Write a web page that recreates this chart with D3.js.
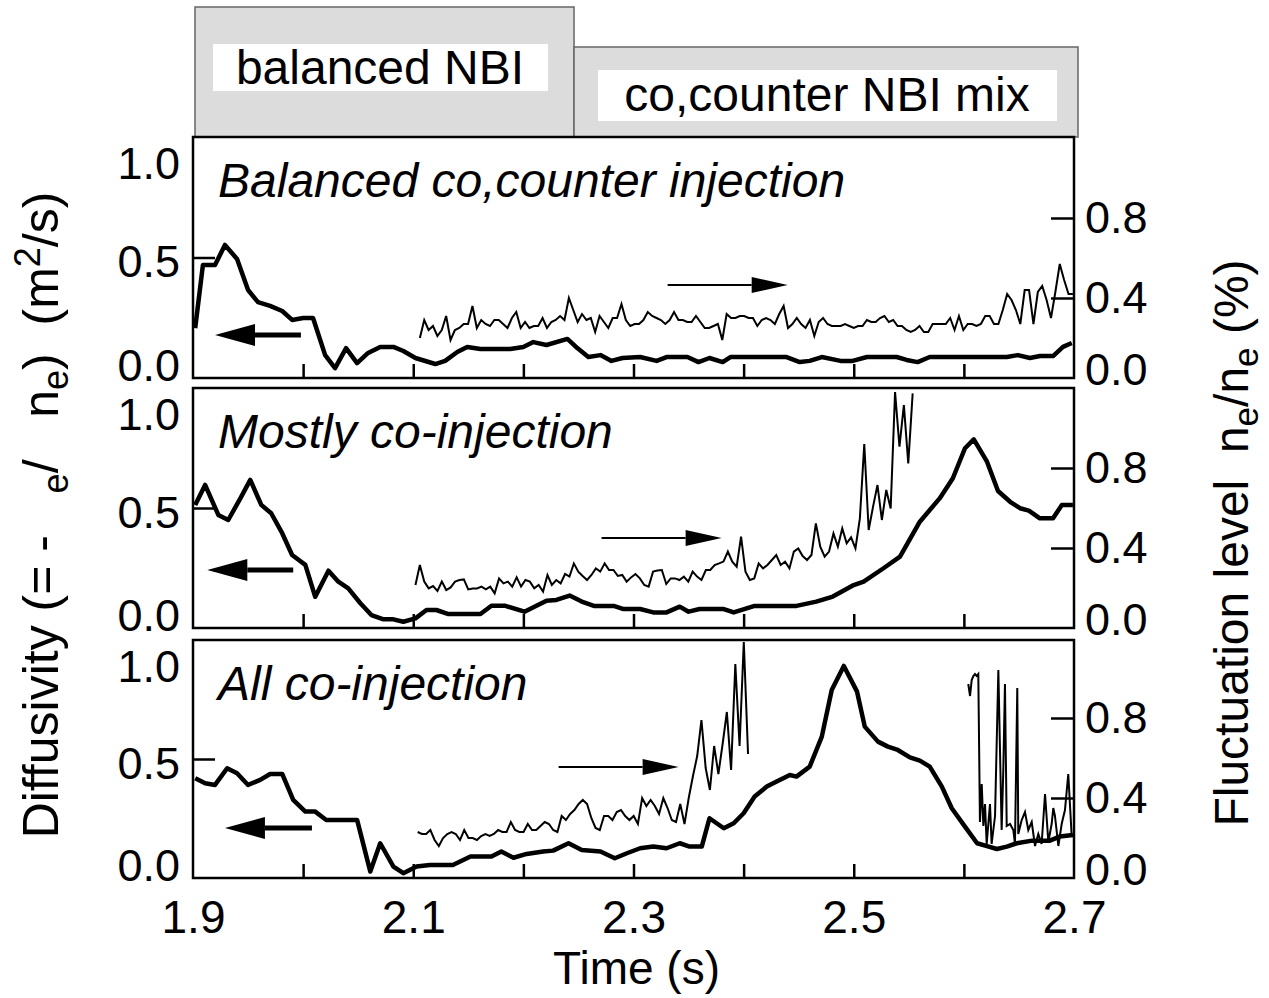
<!DOCTYPE html>
<html>
<head>
<meta charset="utf-8">
<script src="https://cdn.jsdelivr.net/npm/d3@7"></script>
<style>
  body { margin: 0; background: #fff; }
  svg text { font-family: "Liberation Sans", Arial, Helvetica, sans-serif; fill: #000; }
</style>
</head>
<body>
<div class="canvas"></div>
<script>
// ---- data ----
const timeLabels = [1.9, 2.1, 2.3, 2.5, 2.7]
const timeTicks = [2.0, 2.1, 2.2, 2.3, 2.4, 2.5, 2.6]
const diffLabels = [0, 0.5, 1.0]
const fluctLabels = [0, 0.4, 0.8]

const panelTitles = ['Balanced co,counter injection', 'Mostly co-injection', 'All co-injection']
const phaseLabels = ['balanced NBI', 'co,counter NBI mix']
const phaseStart = [1.9, 2.246]
const phaseEnd = [2.246, 2.7]

// panel 1 : balanced co,counter injection
const balTime = [1.902, 1.909, 1.920, 1.929, 1.940, 1.950, 1.959, 1.970, 1.981, 1.990, 2.000, 2.009, 2.020, 2.029, 2.039, 2.049, 2.059, 2.070, 2.082, 2.091, 2.102, 2.120, 2.129, 2.140, 2.149, 2.161, 2.188, 2.200, 2.209, 2.221, 2.240, 2.249, 2.259, 2.270, 2.280, 2.290, 2.306, 2.321, 2.330, 2.349, 2.359, 2.369, 2.381, 2.388, 2.439, 2.451, 2.460, 2.471, 2.488, 2.499, 2.512, 2.539, 2.548, 2.558, 2.569, 2.639, 2.649, 2.660, 2.669, 2.681, 2.690, 2.698]
const balDiff = [0.207, 0.469, 0.469, 0.552, 0.494, 0.365, 0.315, 0.299, 0.278, 0.241, 0.249, 0.249, 0.095, 0.041, 0.124, 0.062, 0.104, 0.129, 0.129, 0.112, 0.083, 0.058, 0.071, 0.108, 0.129, 0.120, 0.120, 0.129, 0.149, 0.137, 0.162, 0.124, 0.087, 0.095, 0.071, 0.083, 0.087, 0.071, 0.087, 0.087, 0.066, 0.083, 0.066, 0.087, 0.087, 0.066, 0.071, 0.087, 0.071, 0.071, 0.087, 0.087, 0.075, 0.066, 0.087, 0.087, 0.095, 0.083, 0.091, 0.091, 0.129, 0.145]
const balFluctSpan = [2.106, 2.699]
const balFluct = [
  0.20, 0.29, 0.24, 0.26, 0.21, 0.24, 0.31, 0.19, 0.24, 0.25,
  0.27, 0.27, 0.36, 0.25, 0.29, 0.27, 0.26, 0.29, 0.29, 0.27,
  0.25, 0.30, 0.33, 0.25, 0.28, 0.25, 0.26, 0.26, 0.30, 0.25,
  0.28, 0.29, 0.31, 0.29, 0.40, 0.34, 0.28, 0.32, 0.29, 0.30,
  0.23, 0.31, 0.28, 0.25, 0.30, 0.30, 0.37, 0.29, 0.26, 0.27,
  0.27, 0.29, 0.33, 0.31, 0.30, 0.29, 0.27, 0.29, 0.33, 0.29,
  0.29, 0.28, 0.28, 0.31, 0.28, 0.25, 0.25, 0.26, 0.27, 0.19,
  0.32, 0.30, 0.30, 0.31, 0.31, 0.30, 0.30, 0.26, 0.29, 0.30,
  0.29, 0.27, 0.32, 0.36, 0.25, 0.27, 0.30, 0.27, 0.25, 0.29,
  0.21, 0.28, 0.30, 0.27, 0.26, 0.26, 0.26, 0.27, 0.26, 0.25,
  0.26, 0.26, 0.29, 0.28, 0.28, 0.30, 0.31, 0.28, 0.29, 0.26,
  0.26, 0.24, 0.23, 0.24, 0.26, 0.23, 0.23, 0.27, 0.27, 0.27,
  0.27, 0.30, 0.24, 0.31, 0.24, 0.27, 0.27, 0.26, 0.27, 0.31,
  0.31, 0.27, 0.27, 0.34, 0.42, 0.39, 0.34, 0.27, 0.44, 0.44,
  0.27, 0.43, 0.46, 0.39, 0.30, 0.43, 0.57, 0.49, 0.42, 0.42
]

// panel 2 : mostly co-injection
const mostTime = [1.902, 1.911, 1.923, 1.932, 1.943, 1.952, 1.962, 1.971, 1.981, 1.990, 2.002, 2.011, 2.023, 2.032, 2.041, 2.052, 2.062, 2.073, 2.082, 2.091, 2.102, 2.112, 2.121, 2.132, 2.161, 2.171, 2.183, 2.201, 2.221, 2.230, 2.242, 2.253, 2.264, 2.282, 2.291, 2.306, 2.318, 2.330, 2.342, 2.350, 2.360, 2.382, 2.391, 2.410, 2.448, 2.466, 2.481, 2.500, 2.509, 2.527, 2.542, 2.560, 2.578, 2.590, 2.601, 2.609, 2.621, 2.631, 2.642, 2.651, 2.659, 2.669, 2.681, 2.689, 2.699]
const mostDiff = [0.513, 0.596, 0.471, 0.450, 0.540, 0.617, 0.513, 0.478, 0.395, 0.304, 0.263, 0.130, 0.239, 0.193, 0.165, 0.103, 0.054, 0.036, 0.036, 0.026, 0.040, 0.075, 0.075, 0.058, 0.058, 0.093, 0.093, 0.068, 0.114, 0.117, 0.135, 0.110, 0.092, 0.092, 0.079, 0.079, 0.065, 0.065, 0.089, 0.068, 0.079, 0.079, 0.065, 0.092, 0.092, 0.110, 0.131, 0.179, 0.193, 0.249, 0.297, 0.443, 0.540, 0.624, 0.749, 0.786, 0.693, 0.571, 0.526, 0.499, 0.489, 0.457, 0.457, 0.513, 0.513]
const mostFluctSpan = [2.102, 2.5535]
const mostFluct = [
  0.215, 0.315, 0.232, 0.198, 0.21, 0.185, 0.232, 0.19, 0.203, 0.232,
  0.24, 0.243, 0.193, 0.198, 0.198, 0.207, 0.193, 0.207, 0.173, 0.248,
  0.223, 0.232, 0.207, 0.253, 0.207, 0.24, 0.232, 0.198, 0.215, 0.182,
  0.265, 0.215, 0.24, 0.223, 0.27, 0.257, 0.323, 0.282, 0.26, 0.24,
  0.265, 0.298, 0.282, 0.323, 0.29, 0.29, 0.26, 0.265, 0.232, 0.253,
  0.27,
  0.248, 0.215, 0.207, 0.282, 0.287, 0.29, 0.22, 0.248, 0.248, 0.24,
  0.257, 0.232, 0.282, 0.257, 0.24, 0.29, 0.29, 0.315, 0.323, 0.332,
  0.382, 0.332, 0.307, 0.457, 0.282, 0.24, 0.248, 0.323, 0.298, 0.315,
  0.34, 0.365, 0.315, 0.332, 0.298, 0.382, 0.398, 0.36, 0.34, 0.365,
  0.523, 0.407, 0.357, 0.382, 0.473, 0.407, 0.498, 0.423, 0.453, 0.398,
  0.548, 0.92, 0.49, 0.607, 0.715, 0.54, 0.69, 0.598, 1.18, 0.907,
  1.115, 0.823, 1.173
]

// panel 3 : all co-injection
const allTime = [1.902, 1.911, 1.920, 1.931, 1.940, 1.950, 1.961, 1.970, 1.981, 1.991, 2.002, 2.011, 2.021, 2.049, 2.061, 2.070, 2.082, 2.091, 2.103, 2.115, 2.136, 2.152, 2.171, 2.180, 2.191, 2.203, 2.218, 2.227, 2.241, 2.253, 2.270, 2.283, 2.294, 2.306, 2.318, 2.330, 2.342, 2.351, 2.362, 2.369, 2.382, 2.391, 2.400, 2.410, 2.421, 2.430, 2.442, 2.448, 2.460, 2.471, 2.480, 2.491, 2.503, 2.510, 2.522, 2.531, 2.540, 2.551, 2.560, 2.569, 2.580, 2.589, 2.601, 2.612, 2.621, 2.630, 2.639, 2.648, 2.662, 2.678, 2.687, 2.699]
const allDiff = [0.419, 0.398, 0.391, 0.461, 0.440, 0.391, 0.412, 0.437, 0.437, 0.328, 0.279, 0.279, 0.244, 0.244, 0.027, 0.146, 0.048, 0.020, 0.048, 0.055, 0.055, 0.090, 0.090, 0.111, 0.085, 0.101, 0.111, 0.115, 0.146, 0.118, 0.111, 0.083, 0.104, 0.125, 0.132, 0.125, 0.146, 0.132, 0.132, 0.251, 0.209, 0.230, 0.272, 0.342, 0.384, 0.405, 0.433, 0.426, 0.468, 0.594, 0.790, 0.891, 0.783, 0.636, 0.573, 0.552, 0.538, 0.507, 0.493, 0.468, 0.384, 0.293, 0.216, 0.146, 0.134, 0.122, 0.132, 0.146, 0.157, 0.157, 0.174, 0.181]
const allFluctSpan = [2.104, 2.404]
const allFluct = [
  0.23, 0.22, 0.22, 0.24, 0.19, 0.16, 0.20, 0.22, 0.23, 0.22,
  0.19, 0.24, 0.20, 0.20, 0.19, 0.21, 0.22, 0.21, 0.22, 0.24,
  0.23, 0.23, 0.28, 0.24, 0.23, 0.23, 0.27, 0.24, 0.24, 0.26,
  0.28, 0.27, 0.24, 0.23, 0.31, 0.29, 0.32, 0.34, 0.37, 0.39,
  0.37, 0.30, 0.25, 0.24, 0.31, 0.31, 0.29, 0.33, 0.34, 0.31,
  0.29,
  0.31, 0.27, 0.40, 0.36, 0.39, 0.36, 0.32, 0.40, 0.35, 0.29,
  0.28, 0.37, 0.27, 0.40, 0.51, 0.61, 0.79, 0.55, 0.44, 0.66,
  0.52, 0.67, 0.83, 0.54, 1.07, 0.66, 1.18, 0.62
]
// second burst at the end of the shot
const allFluctLateTime = [2.6040, 2.6056, 2.6071, 2.6086, 2.6101, 2.6116, 2.6131, 2.6146, 2.6162, 2.6177, 2.6192, 2.6207, 2.6237, 2.6252, 2.6283, 2.6313, 2.6343, 2.6358, 2.6373, 2.6389, 2.6419, 2.6449, 2.6464, 2.6485, 2.6494, 2.6525, 2.6555, 2.6585, 2.6616, 2.6646, 2.6676, 2.6706, 2.6737, 2.6767, 2.6797, 2.6812, 2.6827, 2.6858, 2.6888, 2.6918, 2.6948, 2.6979]
const allFluctLate = [0.97, 0.91, 0.99, 1.01, 1.02, 1.01, 1.02, 0.28, 0.47, 0.26, 0.37, 0.17, 0.37, 0.17, 0.31, 1.04, 0.24, 0.54, 0.97, 0.26, 0.27, 0.24, 0.17, 0.95, 0.22, 0.29, 0.33, 0.24, 0.28, 0.16, 0.22, 0.17, 0.42, 0.18, 0.27, 0.35, 0.31, 0.16, 0.27, 0.34, 0.52, 0.21]

// arrows: which axis each curve belongs to
const leftArrowTail = [1.998, 1.991, 2.008]
const leftArrowTip = [1.920, 1.913, 1.929]
const leftArrowLevel = [0.178, 0.242, 0.210]
const rightArrowTail = [2.331, 2.271, 2.232]
const rightArrowTip = [2.440, 2.380, 2.341]
const rightArrowLevel = [0.465, 0.45, 0.555]

// ---- helpers ----
const pairs = (times, values) => times.map((t, i) => ({ t, v: values[i] }))
const sampled = (span, values) => {
  const step = (span[1] - span[0]) / (values.length - 1)
  return values.map((v, i) => ({ t: span[0] + i * step, v }))
}

const panels = [
  { top: 137, bottom: 378, title: panelTitles[0], diff: pairs(balTime, balDiff), fluct: [sampled(balFluctSpan, balFluct)] },
  { top: 388, bottom: 628, title: panelTitles[1], diff: pairs(mostTime, mostDiff), fluct: [sampled(mostFluctSpan, mostFluct)] },
  { top: 640, bottom: 878, title: panelTitles[2], diff: pairs(allTime, allDiff), fluct: [sampled(allFluctSpan, allFluct), pairs(allFluctLateTime, allFluctLate)] }
]

// ---- drawing ----
const dims = { width: 1269, height: 998 }
const plot = { left: 193, right: 1074 }
const fluctPxPerUnit = 200

const svg = d3.select('.canvas')
  .append('svg')
  .attr('width', dims.width)
  .attr('height', dims.height)

const x = d3.scaleLinear().domain([1.9, 2.7]).range([plot.left, plot.right])

// NBI phase header boxes
const phaseTops = [7, 47]
const header = svg.append('g')
header.selectAll('rect.phase')
  .data(phaseLabels)
  .enter().append('rect')
    .attr('class', 'phase')
    .attr('x', (d, i) => x(phaseStart[i]) + (i === 0 ? 2 : 0))
    .attr('y', (d, i) => phaseTops[i])
    .attr('width', (d, i) => x(phaseEnd[i]) - x(phaseStart[i]) + (i === 1 ? 4 : -2))
    .attr('height', (d, i) => 137 - phaseTops[i])
    .attr('fill', '#dcdcdc')
    .attr('stroke', '#666')
    .attr('stroke-width', 1.5)

const labelBoxes = [{ x: 213, y: 44, w: 335, h: 47, cx: 380, base: 84 }, { x: 598, y: 70, w: 459, h: 51, cx: 827, base: 111 }]
phaseLabels.forEach((label, i) => {
  const b = labelBoxes[i]
  header.append('rect').attr('x', b.x).attr('y', b.y).attr('width', b.w).attr('height', b.h).attr('fill', '#fff')
  header.append('text')
    .attr('x', b.cx).attr('y', b.base)
    .attr('text-anchor', 'middle')
    .attr('font-size', 48)
    .text(label)
})

const seriesLine = y => d3.line()
  .defined(d => d.v != null)
  .x(d => x(d.t))
  .y(d => y(d.v))

panels.forEach((p, k) => {
  const yLeft = d3.scaleLinear().domain([0, 1]).range([p.bottom, p.top])
  const yRight = d3.scaleLinear().domain([0, (p.bottom - p.top) / fluctPxPerUnit]).range([p.bottom, p.top])

  const g = svg.append('g')

  g.append('clipPath').attr('id', `clip${k}`)
    .append('rect')
      .attr('x', plot.left).attr('y', p.top)
      .attr('width', plot.right - plot.left).attr('height', p.bottom - p.top)

  const marks = g.append('g').attr('clip-path', `url(#clip${k})`)

  // fluctuation level (thin, right axis)
  p.fluct.forEach(seg => {
    marks.append('path')
      .datum(seg)
      .attr('d', seriesLine(yRight))
      .attr('fill', 'none')
      .attr('stroke', '#000')
      .attr('stroke-width', 2)
      .attr('stroke-linejoin', 'miter')
  })

  // diffusivity (thick, left axis)
  marks.append('path')
    .datum(p.diff)
    .attr('d', seriesLine(yLeft))
    .attr('fill', 'none')
    .attr('stroke', '#000')
    .attr('stroke-width', 4.5)
    .attr('stroke-linejoin', 'round')

  // arrows pointing at the axis each curve uses
  const arrow = (x1, x2, yy, w, headL, headH) => {
    const dir = Math.sign(x2 - x1)
    const hb = x2 - dir * headL
    g.append('line')
      .attr('x1', x1).attr('x2', hb).attr('y1', yy).attr('y2', yy)
      .attr('stroke', '#000').attr('stroke-width', w)
    g.append('path')
      .attr('d', `M${x2},${yy}L${hb},${yy - headH}L${hb},${yy + headH}Z`)
      .attr('fill', '#000')
  }
  arrow(x(leftArrowTail[k]), x(leftArrowTip[k]), yLeft(leftArrowLevel[k]), 5, 40, 11)
  arrow(x(rightArrowTail[k]), x(rightArrowTip[k]), yRight(rightArrowLevel[k]), 2.2, 36, 8)

  // inward ticks
  const tickStyle = sel => {
    sel.select('.domain').remove()
    sel.selectAll('line').attr('stroke', '#000').attr('stroke-width', 2.5)
  }
  g.append('g')
    .attr('transform', `translate(0, ${p.bottom})`)
    .call(d3.axisBottom(x).tickValues(timeTicks).tickSize(-14).tickFormat(''))
    .call(tickStyle)
  g.append('g')
    .attr('transform', `translate(${plot.left}, 0)`)
    .call(d3.axisLeft(yLeft).tickValues([0.5]).tickSize(-22).tickFormat(''))
    .call(tickStyle)
  g.append('g')
    .attr('transform', `translate(${plot.right}, 0)`)
    .call(d3.axisRight(yRight).tickValues([0.4, 0.8]).tickSize(-23).tickFormat(''))
    .call(tickStyle)

  // tick labels (the stacked panels share edges, so the end labels are pulled inward)
  const leftShift = v => v === 0 ? -12 : (v === 1 ? 27 : 5)
  const rightShift = v => v === 0 ? -8 : 0
  const labelStyle = shift => sel => {
    sel.select('.domain').remove()
    sel.attr('font-size', 45).attr('font-family', null)
    sel.selectAll('text').attr('fill', '#000').attr('transform', d => `translate(0, ${shift(d)})`)
  }
  g.append('g')
    .attr('transform', `translate(${plot.left}, 0)`)
    .call(d3.axisLeft(yLeft).tickValues(diffLabels).tickSize(0).tickPadding(13).tickFormat(d3.format('.1f')))
    .call(labelStyle(leftShift))
  g.append('g')
    .attr('transform', `translate(${plot.right}, 0)`)
    .call(d3.axisRight(yRight).tickValues(fluctLabels).tickSize(0).tickPadding(11).tickFormat(d3.format('.1f')))
    .call(labelStyle(rightShift))

  // frame
  g.append('rect')
    .attr('x', plot.left).attr('y', p.top)
    .attr('width', plot.right - plot.left).attr('height', p.bottom - p.top)
    .attr('fill', 'none')
    .attr('stroke', '#000')
    .attr('stroke-width', 2.5)

  // panel title
  g.append('text')
    .attr('x', 218).attr('y', p.top + 60)
    .attr('font-size', 48)
    .attr('font-style', 'italic')
    .text(p.title)
})

// time axis labels (bottom panel only)
const last = panels[panels.length - 1]
svg.append('g')
  .attr('transform', `translate(0, ${last.bottom})`)
  .call(d3.axisBottom(x).tickValues(timeLabels).tickSize(0).tickPadding(22).tickFormat(d3.format('.1f')))
  .call(sel => {
    sel.select('.domain').remove()
    sel.attr('font-size', 46).attr('font-family', null)
    sel.selectAll('text').attr('fill', '#000')
  })

svg.append('text')
  .attr('x', (plot.left + plot.right) / 2 + 3)
  .attr('y', 984)
  .attr('text-anchor', 'middle')
  .attr('font-size', 46)
  .text('Time (s)')

// axis titles (symbols of the original are lost, keep spacing)
const nb = '\u00a0'
const leftTitle = svg.append('text')
  .attr('transform', 'translate(58, 515) rotate(-90)')
  .attr('text-anchor', 'middle')
  .attr('font-size', 50)
leftTitle.append('tspan').text(`Diffusivity (= -${nb}${nb}${nb}`)
leftTitle.append('tspan').attr('font-size', 36).attr('dy', 10).text('e')
leftTitle.append('tspan').attr('dy', -10).text(`/${nb}${nb}${nb}n`)
leftTitle.append('tspan').attr('font-size', 36).attr('dy', 10).text('e')
leftTitle.append('tspan').attr('dy', -10).text(`)${nb}${nb}(m`)
leftTitle.append('tspan').attr('font-size', 36).attr('dy', -18).text('2')
leftTitle.append('tspan').attr('dy', 18).text('/s)')

const rightTitle = svg.append('text')
  .attr('transform', 'translate(1248, 543) rotate(-90)')
  .attr('text-anchor', 'middle')
  .attr('font-size', 48)
rightTitle.append('tspan').text(`Fluctuation level${nb}${nb}n`)
rightTitle.append('tspan').attr('font-size', 35).attr('dy', 10).text('e')
rightTitle.append('tspan').attr('dy', -10).text('/n')
rightTitle.append('tspan').attr('font-size', 35).attr('dy', 10).text('e')
rightTitle.append('tspan').attr('dy', -10).text(`${nb}(%)`)
</script>
</body>
</html>
